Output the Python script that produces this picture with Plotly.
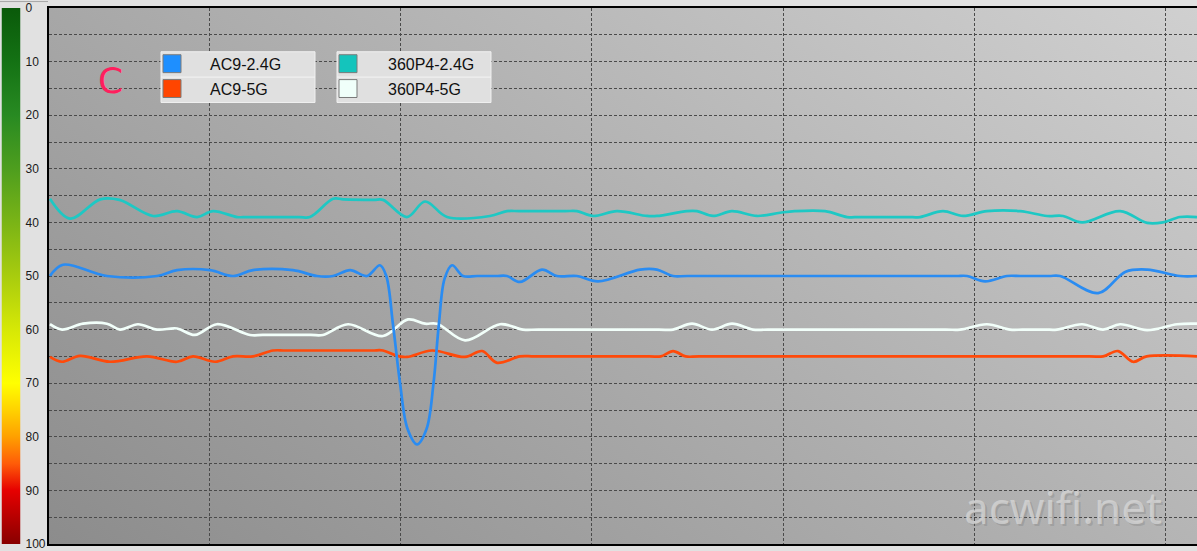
import base64
import plotly.graph_objects as go

# ---------------- data (time in grid units, value = signal level) ----------------
series_names = ["AC9-2.4G", "AC9-5G", "360P4-2.4G", "360P4-5G"]
series_colors = ["#2a8cf2", "#ff4a0a", "#1ec8c4", "#f2fffa"]
legend_colors = ["#1e8fff", "#ff4500", "#14c4bc", "#f0fffa"]

t_ac9_24 = [1.67, 2.35, 4.65, 7.27, 8.31, 10.04, 11.24, 12.28, 14.37, 15.63, 16.47, 17.36,
            18.24, 18.92, 19.25, 19.6, 19.97, 20.36, 20.86, 21.36, 21.72,
            22.0, 22.3, 22.69, 23.26, 24.0, 25.0, 25.56, 26.24, 27.39, 28.17, 29.22, 30.32,
            32.52, 33.40, 34.24, 35.0, 49.0, 49.61, 50.55, 51.70, 52.4, 53.9, 54.47, 56.46,
            57.9, 59.02, 60.74, 61.63]
v_ac9_24 = [50.0, 47.9, 50.0, 50.0, 48.9, 48.9, 50.0, 48.9, 48.9, 50.0, 50.0, 48.9,
            50.0, 48.0, 50.0, 59.0, 70.0, 78.5, 81.4, 78.5, 70.0,
            59.0, 50.5, 48.0, 50.0, 50.0, 50.0, 50.0, 51.1, 48.8, 50.0, 50.0, 51.0,
            48.8, 48.8, 50.0, 50.0, 50.0, 50.0, 51.0, 50.0, 50.0, 50.0, 50.0, 53.2,
            49.2, 48.8, 50.0, 50.0]

t_ac9_5 = [1.67, 2.30, 3.24, 4.81, 6.74, 8.31, 9.15, 10.30, 11.24, 12.28, 13.33, 14.0,
           18.5, 19.08, 19.81, 20.33, 21.64, 23.37, 24.26, 25.04, 26.24, 27.0, 33.0, 33.6,
           34.24, 34.9, 35.6, 56.0, 56.72, 57.50, 58.29, 59.0, 61.63]
v_ac9_5 = [65.1, 66.0, 64.9, 66.0, 65.0, 66.0, 65.0, 66.0, 65.0, 65.0, 63.9, 63.9,
           63.9, 63.9, 64.9, 65.1, 63.9, 65.1, 64.0, 66.2, 65.0, 65.0, 65.0, 65.0,
           64.0, 65.0, 65.0, 65.0, 65.0, 64.0, 66.0, 65.0, 65.0]

t_360_24 = [1.67, 2.72, 4.3, 5.3, 7.06, 8.31, 9.36, 10.19, 11.45, 12.0, 14.7, 15.26, 16.47,
            17.0, 18.6, 19.08, 20.33, 21.28, 22.43, 24.67, 25.56, 26.2, 28.6, 29.22, 30.06,
            31.31, 32.88, 33.40, 34.97, 35.49, 36.33, 37.32, 38.63, 39.83, 40.6, 42.19,
            43.34, 44.0, 46.5, 47.15, 48.35, 49.40, 50.65, 52.38, 53.79, 54.63, 55.62,
            57.61, 59.02, 59.85, 60.74, 61.63]
v_360_24 = [35.6, 39.3, 35.7, 35.8, 38.8, 37.9, 39.0, 37.9, 39.0, 39.0, 39.0, 39.0, 35.6,
            35.7, 35.8, 35.8, 39.0, 36.1, 39.0, 38.8, 37.9, 37.9, 37.9, 37.9, 38.8,
            37.9, 38.8, 38.8, 37.9, 37.9, 38.8, 37.9, 38.8, 38.2, 37.9, 37.9,
            39.0, 39.0, 39.0, 39.0, 37.9, 38.8, 37.9, 37.9, 38.8, 38.8, 40.0,
            37.9, 40.1, 40.0, 39.0, 39.0]

t_360_5 = [1.67, 2.30, 3.40, 4.65, 5.33, 6.27, 7.27, 8.31, 9.25, 10.40, 12.13, 12.8, 15.3,
           15.94, 17.25, 19.08, 20.39, 21.28, 21.90, 23.37, 25.20, 26.40, 27.2, 33.5, 34.24,
           35.23, 36.28, 37.32, 38.42, 39.2, 48.5, 49.24, 50.65, 51.86, 52.5, 53.7, 54.31,
           55.62, 56.72, 57.61, 59.02, 60.59, 61.63]
v_360_5 = [59.0, 60.0, 58.9, 58.9, 60.0, 59.0, 60.0, 59.8, 61.0, 59.0, 61.0, 61.0, 61.0,
           61.0, 59.0, 61.2, 58.1, 58.9, 58.9, 62.0, 59.0, 60.0, 60.0, 60.0, 60.0,
           58.9, 60.0, 58.9, 60.0, 60.0, 60.0, 60.0, 59.0, 60.0, 60.0, 60.0, 60.0,
           59.0, 60.0, 59.0, 60.1, 59.0, 58.9]

x_grid = [10, 20, 30, 40, 50, 60]
y_grid = list(range(0, 101, 5))
y_labels = list(range(0, 101, 10))
x_range = [1.62, 61.63]
y_range = [100, 0]

# ---------------- geometry ----------------
W, H = 1197, 551
L_PX, TOP_PX, BOT_PX = 49, 8, 547
PH = BOT_PX - TOP_PX


def px_x(px):
    return px / W


def px_y(py):
    return (BOT_PX - py) / PH


def svg_uri(svg):
    return "data:image/svg+xml;base64," + base64.b64encode(svg.encode()).decode()


bg_svg = (
    '<svg xmlns="http://www.w3.org/2000/svg" width="1148" height="539" viewBox="0 0 1148 539" '
    'preserveAspectRatio="none"><defs><linearGradient id="g" x1="0" y1="1" x2="1.154" y2="0.231">'
    '<stop offset="0" stop-color="rgb(140,140,140)"/><stop offset="1" stop-color="rgb(208,208,208)"/>'
    '</linearGradient></defs><rect width="1148" height="539" fill="url(#g)"/></svg>'
)

cb_stops = [(0, "#0a5a0a"), (0.1, "#147214"), (0.2, "#288a22"), (0.3, "#4e9e1e"),
            (0.4, "#7ab416"), (0.5, "#a8cc0e"), (0.6, "#d6e806"), (0.7, "#ffff00"),
            (0.75, "#ffd200"), (0.8, "#ffa000"), (0.85, "#ff5c08"), (0.9, "#e60000"),
            (1.0, "#880000")]
cb_svg = (
    '<svg xmlns="http://www.w3.org/2000/svg" width="19" height="539" viewBox="0 0 19 539" '
    'preserveAspectRatio="none"><defs><linearGradient id="c" x1="0" y1="0" x2="0" y2="1">'
    + "".join(f'<stop offset="{o}" stop-color="{c}"/>' for o, c in cb_stops)
    + '</linearGradient></defs><rect width="19" height="539" fill="url(#c)"/></svg>'
)

fig = go.Figure()

order = [(t_ac9_5, v_ac9_5, 1), (t_360_5, v_360_5, 3), (t_360_24, v_360_24, 2), (t_ac9_24, v_ac9_24, 0)]
for tx, vy, i in order:
    fig.add_trace(go.Scatter(
        x=tx, y=vy, mode="lines", name=series_names[i],
        line=dict(color=series_colors[i], width=2.7, shape="spline", smoothing=1.0),
        showlegend=False, hoverinfo="skip"))

fig.add_trace(go.Scatter(x=[None], y=[None], yaxis="y2", showlegend=False, hoverinfo="skip"))

grid_dash = "3px,2px"
fig.update_layout(
    width=W, height=H,
    margin=dict(l=0, r=0, t=TOP_PX, b=H - BOT_PX, pad=0),
    paper_bgcolor="#e1e1e1",
    plot_bgcolor="rgba(0,0,0,0)",
    font=dict(family="Liberation Sans, Arial, sans-serif", color="#111"),
    xaxis=dict(domain=[L_PX / W, 1], range=x_range, tickvals=x_grid, showticklabels=False,
               ticks="", showgrid=True, gridcolor="#4a4a4a", gridwidth=1, griddash=grid_dash,
               zeroline=False, showline=True, mirror=True, linecolor="#000", linewidth=1.5),
    yaxis=dict(range=y_range, tickvals=y_grid, showticklabels=False, ticks="",
               showgrid=True, gridcolor="#4a4a4a", gridwidth=1, griddash=grid_dash,
               zeroline=False, showline=True, linecolor="#000", linewidth=1.5),
    yaxis2=dict(overlaying="y", anchor="free", position=20.5 / W, side="right",
                range=y_range, tickvals=y_labels, ticks="", showgrid=False, zeroline=False,
                showline=False, ticklabelstandoff=4, ticklabeloverflow="allow",
                tickfont=dict(size=12, color="#1a1a1a", family="Liberation Sans, Arial, sans-serif")),
    images=[
        dict(source=svg_uri(bg_svg), xref="paper", yref="paper", x=L_PX / W, y=1,
             sizex=1 - L_PX / W, sizey=1, sizing="stretch", layer="below",
             xanchor="left", yanchor="top"),
        dict(source=svg_uri(cb_svg), xref="paper", yref="paper", x=px_x(1.5), y=1,
             sizex=19 / W, sizey=1, sizing="stretch", layer="below",
             xanchor="left", yanchor="top"),
    ],
)

shapes = []
annotations = []
# thin line above colour bar
shapes.append(dict(type="line", xref="paper", yref="paper", x0=0, x1=px_x(48),
                   y0=px_y(1.5), y1=px_y(1.5), line=dict(color="#a8a8a8", width=1)))
# legend boxes
boxes = [(161, 315), (337, 491)]
for bx0, bx1 in boxes:
    shapes.append(dict(type="rect", xref="paper", yref="paper", x0=px_x(bx0), x1=px_x(bx1),
                       y0=px_y(103), y1=px_y(52), fillcolor="#e0e0e0",
                       line=dict(color="#f0f0f0", width=1), layer="above"))
    shapes.append(dict(type="line", xref="paper", yref="paper", x0=px_x(bx0), x1=px_x(bx1),
                       y0=px_y(77.5), y1=px_y(77.5), line=dict(color="#f4f4f4", width=1)))
leg_pos = [(163, 208, 64), (163, 208, 89), (339, 386, 64), (339, 386, 89)]
for i, (sx, tx, cy) in enumerate(leg_pos):
    shapes.append(dict(type="rect", xref="paper", yref="paper", x0=px_x(sx), x1=px_x(sx + 18),
                       y0=px_y(cy + 9), y1=px_y(cy - 9), fillcolor=legend_colors[i],
                       line=dict(color="#7a7a7a", width=1), layer="above"))
    annotations.append(dict(text=series_names[i], xref="paper", yref="paper", x=px_x(tx),
                            y=px_y(cy + 1), xanchor="left", yanchor="middle", showarrow=False,
                            font=dict(size=16, color="#111", family="Liberation Sans, Arial, sans-serif")))

annotations.append(dict(text="C", xref="paper", yref="paper", x=px_x(110), y=px_y(81),
                        xanchor="center", yanchor="middle", showarrow=False,
                        font=dict(size=36, color="#ff1f5e", family="DejaVu Sans, sans-serif")))
# watermark with a soft shadow
annotations.append(dict(text="acwifi.net", xref="paper", yref="paper", x=px_x(1064.5), y=px_y(511.5),
                        xanchor="center", yanchor="middle", showarrow=False,
                        font=dict(size=44, color="rgba(110,110,110,0.25)", family="Noto Sans, sans-serif")))
annotations.append(dict(text="acwifi.net", xref="paper", yref="paper", x=px_x(1063), y=px_y(510),
                        xanchor="center", yanchor="middle", showarrow=False,
                        font=dict(size=44, color="rgba(218,218,218,0.7)", family="Noto Sans, sans-serif")))

fig.update_layout(shapes=shapes, annotations=annotations)
fig.write_html("out.html", config={"displayModeBar": False},
               post_script="document.body.style.margin='0';document.body.style.background='#e1e1e1';")
